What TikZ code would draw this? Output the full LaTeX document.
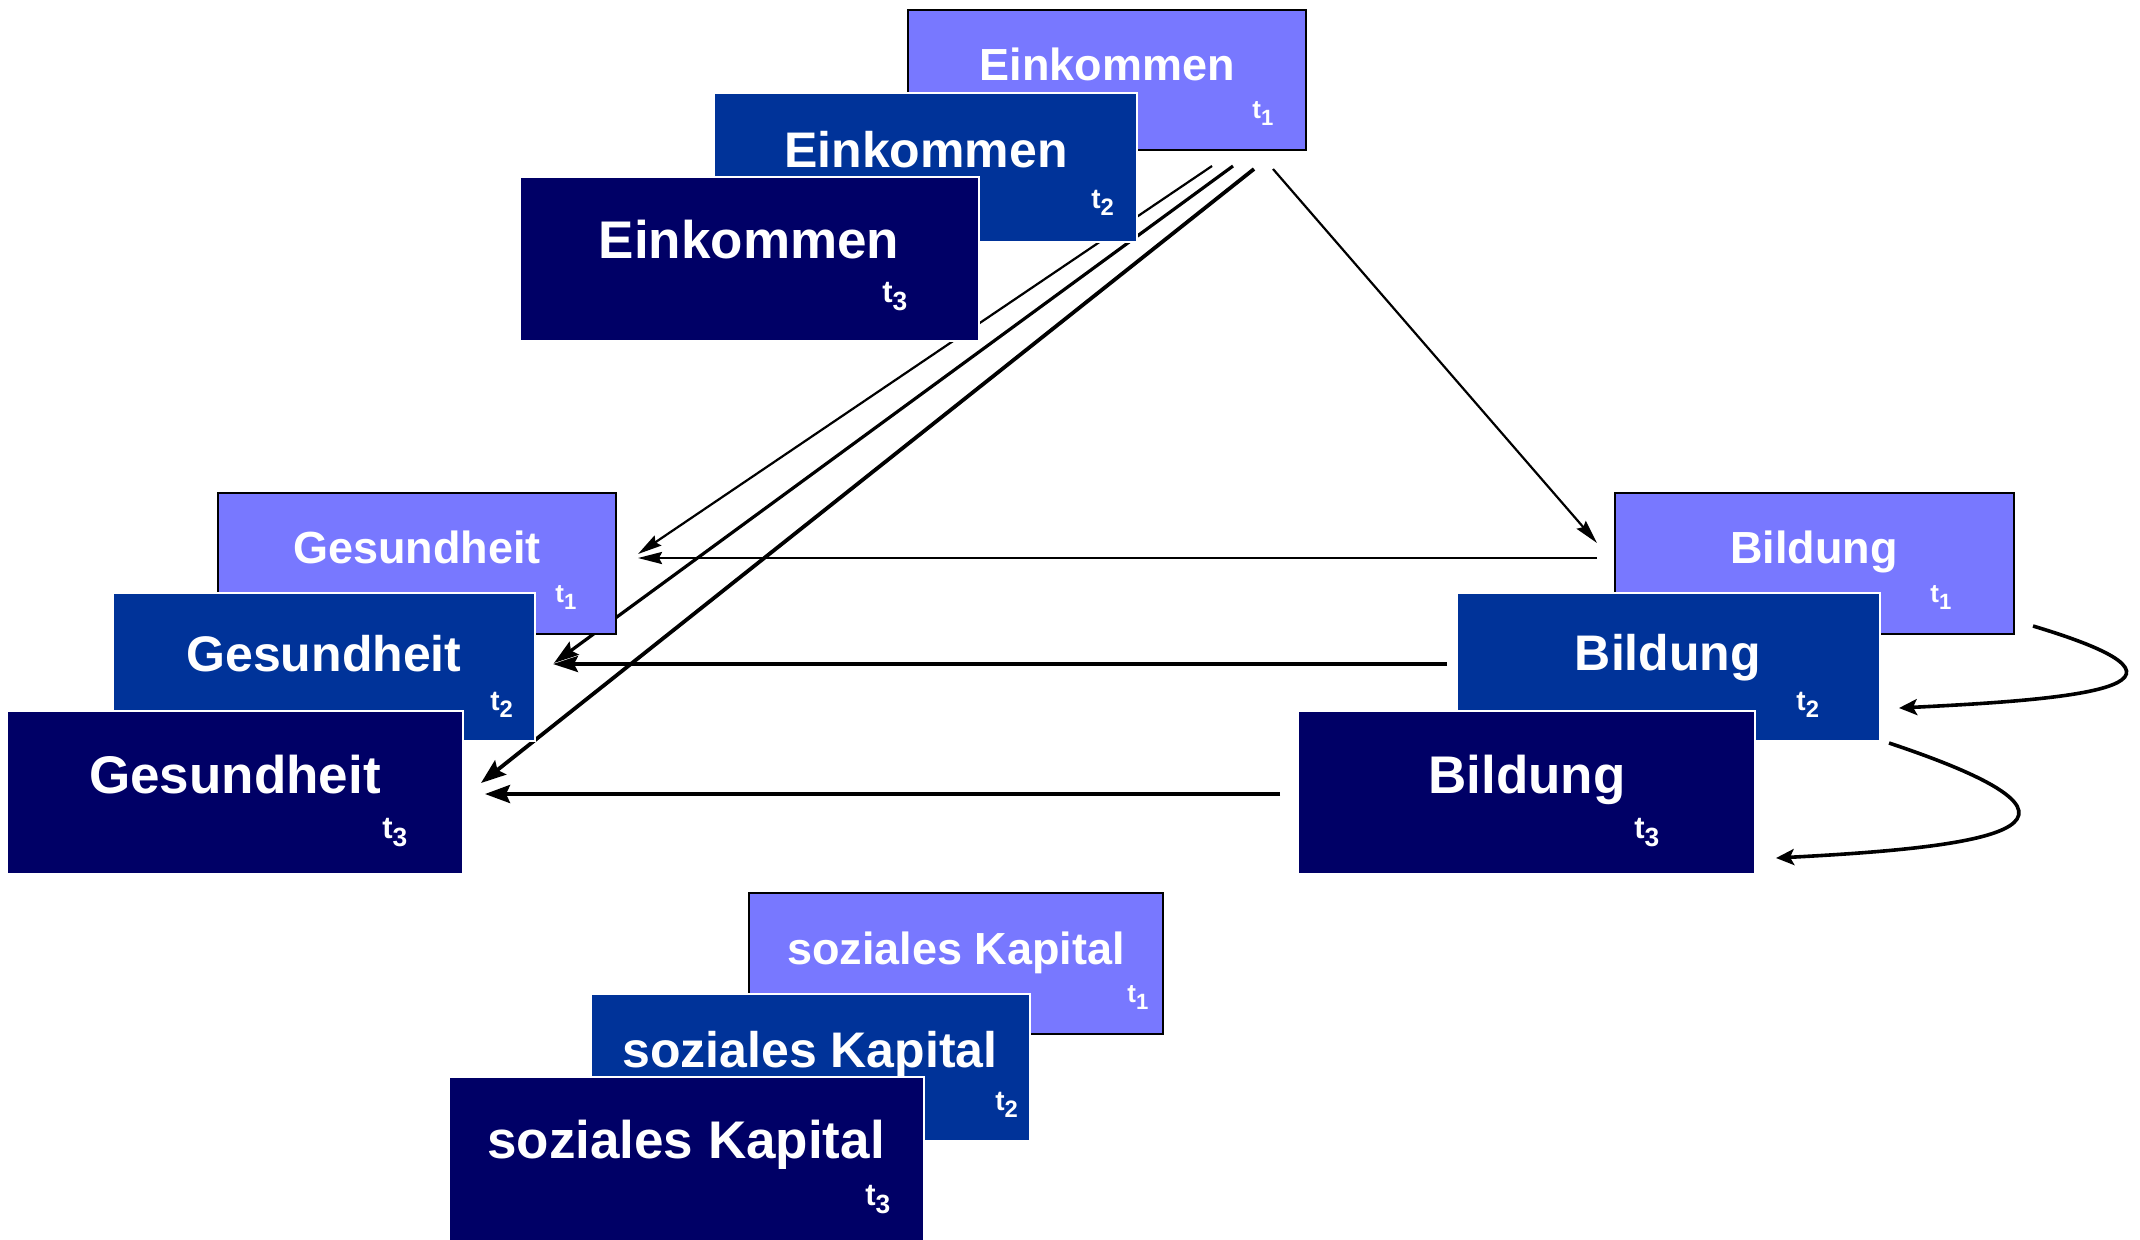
\documentclass[tikz,border=0pt]{standalone}
\usepackage{fontspec}
\setmainfont{Liberation Sans}
\usetikzlibrary{arrows.meta}

\definecolor{lila}{HTML}{7878FF}
\definecolor{mittelblau}{HTML}{003399}
\definecolor{nachtblau}{HTML}{000066}

\newcommand{\zeit}[1]{t\raisebox{-0.27em}{\scalebox{0.85}{#1}}}

\tikzset{
	stufeA/.style={fill=lila,draw=black,line width=1pt},
	stufeB/.style={fill=mittelblau,draw=white,line width=1pt},
	stufeC/.style={fill=nachtblau,draw=white,line width=1pt},
	titelA/.style={anchor=base,inner sep=0,text=white,font=\fontsize{22.5}{27}\selectfont\bfseries},
	titelB/.style={titelA,font=\fontsize{25}{30}\selectfont\bfseries},
	titelC/.style={titelA,font=\fontsize{26.5}{32}\selectfont\bfseries},
	zeitA/.style={anchor=base west,inner sep=0,text=white,font=\fontsize{13}{15}\selectfont\bfseries},
	zeitB/.style={zeitA,font=\fontsize{14}{16}\selectfont\bfseries},
	zeitC/.style={zeitA,font=\fontsize{15.5}{18}\selectfont\bfseries},
	duenn/.style={line width=1.1pt,-{Stealth[length=12pt,width=6pt,inset=1.5pt]}},
	mittel/.style={line width=1.6pt,-{Stealth[length=12.5pt,width=8pt,inset=2pt]}},
	dick/.style={line width=1.9pt,-{Stealth[length=12.5pt,width=9pt,inset=2pt]}},
	bogen/.style={line width=1.8pt,-{Stealth[length=9pt,width=8pt,inset=2pt]}}
}

\begin{document}
\begin{tikzpicture}[x=0.5pt,y=-0.5pt]
	\useasboundingbox (0,0) rectangle (2140,1239);

	% Enden der Pfeile
	\coordinate (eA) at (1212,166);
	\coordinate (eB) at (1233,166);
	\coordinate (eC) at (1254,169);
	\coordinate (eD) at (1273,169);
	\coordinate (gA) at (638,554);
	\coordinate (gB) at (554,663);
	\coordinate (gC) at (481,783);
	\coordinate (bA) at (1597,543);
	\coordinate (bAl) at (1597,558);
	\coordinate (gAr) at (638,558);
	\coordinate (bBl) at (1447,664);
	\coordinate (gBr) at (553,664);
	\coordinate (bCl) at (1280,794);
	\coordinate (gCr) at (485,794);
	\coordinate (bAr) at (2033,626);
	\coordinate (bBr) at (1899,708);
	\coordinate (bBu) at (1889,743);
	\coordinate (bCr) at (1776,858);

	% Pfeile (unter den Kaesten)
	\draw[duenn] (eA) -- (gA);
	\draw[mittel] (eB) -- (gB);
	\draw[dick] (eC) -- (gC);
	\draw[duenn] (eD) -- (bA);
	\draw[duenn,line width=1.25pt] (bAl) -- (gAr);
	\draw[mittel] (bBl) -- (gBr);
	\draw[dick] (bCl) -- (gCr);
	\draw[bogen] (bAr) .. controls (2240,688) and (2060,700) .. (bBr);
	\draw[bogen] (bBu) .. controls (2150,830) and (1966,848) .. (bCr);

	% Einkommen
	\draw[stufeA] (908,10) rectangle ++(398,140);
	\node[titelA] (ek1) at (1107,80) {Einkommen};
	\node[zeitA] (ek1t) at (1252,118) {\zeit{1}};
	\draw[stufeB] (714,93) rectangle ++(423,149);
	\node[titelB] (ek2) at (926,167) {Einkommen};
	\node[zeitB] (ek2t) at (1091,208) {\zeit{2}};
	\draw[stufeC] (520,177) rectangle ++(459,164);
	\node[titelC] (ek3) at (749,258) {Einkommen};
	\node[zeitC] (ek3t) at (882,302) {\zeit{3}};

	% Gesundheit
	\draw[stufeA] (218,493) rectangle ++(398,141);
	\node[titelA] (ge1) at (417,563) {Gesundheit};
	\node[zeitA] (ge1t) at (555,602) {\zeit{1}};
	\draw[stufeB] (113,593) rectangle ++(422,148);
	\node[titelB] (ge2) at (324,671) {Gesundheit};
	\node[zeitB] (ge2t) at (490,710) {\zeit{2}};
	\draw[stufeC] (7,711) rectangle ++(456,163);
	\node[titelC] (ge3) at (235,793) {Gesundheit};
	\node[zeitC] (ge3t) at (382,838) {\zeit{3}};

	% Bildung
	\draw[stufeA] (1615,493) rectangle ++(399,141);
	\node[titelA] (bi1) at (1814,563) {Bildung};
	\node[zeitA] (bi1t) at (1930,602) {\zeit{1}};
	\draw[stufeB] (1457,593) rectangle ++(423,148);
	\node[titelB] (bi2) at (1668,670) {Bildung};
	\node[zeitB] (bi2t) at (1796,710) {\zeit{2}};
	\draw[stufeC] (1298,711) rectangle ++(457,163);
	\node[titelC] (bi3) at (1527,793) {Bildung};
	\node[zeitC] (bi3t) at (1634,838) {\zeit{3}};

	% soziales Kapital
	\draw[stufeA] (749,893) rectangle ++(414,141);
	\node[titelA] (sk1) at (956,964) {soziales Kapital};
	\node[zeitA] (sk1t) at (1127,1002) {\zeit{1}};
	\draw[stufeB] (591,994) rectangle ++(439,147);
	\node[titelB] (sk2) at (810,1067) {soziales Kapital};
	\node[zeitB] (sk2t) at (995,1110) {\zeit{2}};
	\draw[stufeC] (449,1077) rectangle ++(475,175);
	\node[titelC] (sk3) at (686,1158) {soziales Kapital};
	\node[zeitC] (sk3t) at (865,1205) {\zeit{3}};
\end{tikzpicture}
\end{document}
